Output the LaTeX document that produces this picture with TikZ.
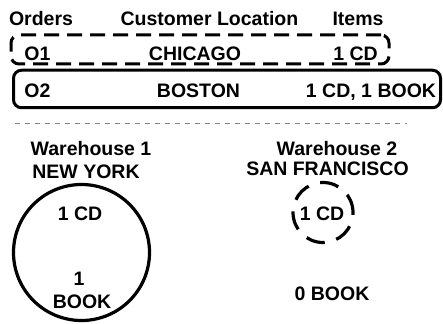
\documentclass[tikz,border=0pt]{standalone}
\usepackage{fontspec}
\setmainfont{Liberation Sans}
\usetikzlibrary{positioning}

\begin{document}
\begin{tikzpicture}[x=1pt,y=-1pt,
    lbl/.style={font=\fontsize{19.5}{21}\selectfont\bfseries,inner sep=0pt,
                text height=14.2pt,text depth=0pt},
    dashbox/.style={draw,line width=3pt,dash pattern=on 15pt off 8pt,
                    rounded corners=8pt,inner sep=0pt},
    solidbox/.style={draw,line width=3pt,rounded corners=8pt,inner sep=0pt},
    stock/.style={draw,circle,line width=3.2pt,inner sep=0pt},
    sepline/.style={gray,line width=1pt,dash pattern=on 5pt off 5pt}]
  \useasboundingbox (0,0) rectangle (443,323);
  % order table
  \node[lbl] (hdrorder) at (41,18.5) {Orders};
  \node[lbl] (hdrloc)   at (209.5,18.5) {Customer Location};
  \node[lbl] (hdritems) at (358,18.5) {Items};
  \node[dashbox,minimum width=378pt,minimum height=29pt] (rowone) at (200,49.5) {};
  \node[lbl] (oneid)    at (37.5,53) {O1};
  \node[lbl] (oneloc)   at (195,53) {CHICAGO};
  \node[lbl] (oneitems) at (355.5,53) {1 CD};
  \node[solidbox,minimum width=427pt,minimum height=37.5pt] (rowtwo) at (227,89) {};
  \node[lbl] (twoid)    at (37.5,90) {O2};
  \node[lbl] (twoloc)   at (198.5,90) {BOSTON};
  \node[lbl] (twoitems) at (371,90) {1 CD, 1 BOOK};
  \coordinate (sepL) at (15,124);
  \coordinate (sepR) at (407,124);
  \draw[sepline] (sepL) -- (sepR);
  % warehouses
  \node[lbl] (whonename) at (91,148.5) {Warehouse 1};
  \node[lbl] (whonecity) at (86,171.5) {NEW YORK};
  \node[stock,minimum size=136pt] (whonestock) at (81.5,252.5) {};
  \node[lbl] (whonecd)   at (80,213.5) {1 CD};
  \node[lbl] (whonenum)  at (79,278.5) {1};
  \node[lbl] (whonebook) at (82,301.5) {BOOK};
  \node[lbl] (whtwoname) at (337,148.5) {Warehouse 2};
  \node[lbl] (whtwocity) at (327.5,168.5) {SAN FRANCISCO};
  \node[stock,dash pattern=on 19pt off 12pt,minimum size=60pt] (whtwostock) at (323,212.5) {};
  \node[lbl] (whtwocd)   at (322,213.5) {1 CD};
  \node[lbl] (whtwobook) at (332,293.5) {0 BOOK};
\end{tikzpicture}
\end{document}
